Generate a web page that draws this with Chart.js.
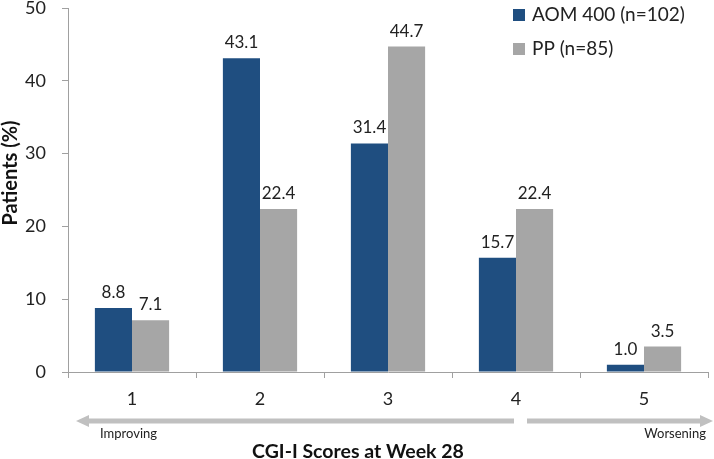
<!DOCTYPE html>
<html><head><meta charset="utf-8">
<script src="https://cdn.jsdelivr.net/npm/chart.js@4/dist/chart.umd.min.js"></script>
<style>html,body{margin:0;padding:0;background:#fff}#w{width:714px;height:459px}</style>
</head><body><div id="w"><canvas id="c"></canvas></div>
<script>
const categories = ['1', '2', '3', '4', '5'];
const seriesNames = ['AOM 400 (n=102)', 'PP (n=85)'];
const aomValues = [8.8, 43.1, 31.4, 15.7, 1.0];
const ppValues = [7.1, 22.4, 44.7, 22.4, 3.5];
const yTicks = [0, 10, 20, 30, 40, 50];
const xTitle = 'CGI-I Scores at Week 28';
const yTitle = 'Patients (%)';
const leftNote = 'Improving';
const rightNote = 'Worsening';
const FONT = 'Lato, "Open Sans", sans-serif';
const colors = ['#1f4e80', '#a6a6a6'];

const extras = {
  id: 'extras',
  afterDatasetsDraw(chart) {
    const ctx = chart.ctx;
    ctx.save();
    ctx.fillStyle = '#222';
    ctx.font = '17px ' + FONT;
    ctx.textAlign = 'center';
    ctx.textBaseline = 'bottom';
    chart.data.datasets.forEach((ds, i) => {
      chart.getDatasetMeta(i).data.forEach((bar, j) => {
        ctx.fillText(ds.data[j].toFixed(1), bar.x, bar.y - 7);
      });
    });
    // legend
    ctx.textAlign = 'left';
    ctx.textBaseline = 'middle';
    ctx.font = '19px ' + FONT;
    chart.data.datasets.forEach((ds, i) => {
      const y = 15 + i * 34;
      ctx.fillStyle = ds.backgroundColor;
      ctx.fillRect(513, y - 6, 12, 12);
      ctx.fillStyle = '#222';
      ctx.fillText(ds.label, 532, y);
    });
    // arrows
    const ay = 421;
    ctx.fillStyle = '#c0c0c0';
    ctx.fillRect(86, ay - 2.5, 428, 5);
    ctx.beginPath(); ctx.moveTo(76, ay); ctx.lineTo(89, ay - 6); ctx.lineTo(89, ay + 6); ctx.closePath(); ctx.fill();
    ctx.fillRect(527, ay - 2.5, 176, 5);
    ctx.beginPath(); ctx.moveTo(713, ay); ctx.lineTo(700, ay - 6); ctx.lineTo(700, ay + 6); ctx.closePath(); ctx.fill();
    ctx.fillStyle = '#222';
    ctx.font = '13px ' + FONT;
    ctx.textAlign = 'left';
    ctx.fillText(leftNote, 100, 434);
    ctx.textAlign = 'right';
    ctx.fillText(rightNote, 706, 434);
    // axis titles
    ctx.fillStyle = '#111';
    ctx.font = 'bold 19.5px ' + FONT;
    ctx.textAlign = 'center';
    ctx.fillText(xTitle, 358, 452);
    ctx.translate(11, 173);
    ctx.rotate(-Math.PI / 2);
    ctx.font = 'bold 20px ' + FONT;
    ctx.fillText(yTitle, 0, 0);
    ctx.restore();
  }
};

new Chart(document.getElementById('c'), {
  type: 'bar',
  data: {
    labels: categories,
    datasets: [
      { label: seriesNames[0], data: aomValues, backgroundColor: colors[0] },
      { label: seriesNames[1], data: ppValues, backgroundColor: colors[1] }
    ]
  },
  options: {
    responsive: true, maintainAspectRatio: false, animation: false,
    layout: { padding: { top: 0, right: 6, bottom: 0, left: 0 } },
    categoryPercentage: 0.58, barPercentage: 1,
    plugins: { legend: { display: false }, tooltip: { enabled: false } },
    scales: {
      x: {
        grid: { drawOnChartArea: false, drawTicks: true, tickLength: 6, color: '#a0a0a0', offset: true },
        border: { color: '#a0a0a0' },
        ticks: { color: '#222', font: { size: 18, family: FONT }, padding: 10 },
        afterFit(s) { s.height = 87; }
      },
      y: {
        min: 0, max: 50,
        afterBuildTicks(s) { s.ticks = yTicks.map(v => ({ value: v })); },
        grid: { drawOnChartArea: false, drawTicks: true, tickLength: 6, color: '#a0a0a0' },
        border: { color: '#a0a0a0' },
        ticks: { color: '#222', font: { size: 18, family: FONT }, padding: 16 },
        afterFit(s) { s.width = 68; s.paddingTop = 8; s.paddingBottom = 0; }
      }
    }
  },
  plugins: [extras]
});
</script></body></html>
